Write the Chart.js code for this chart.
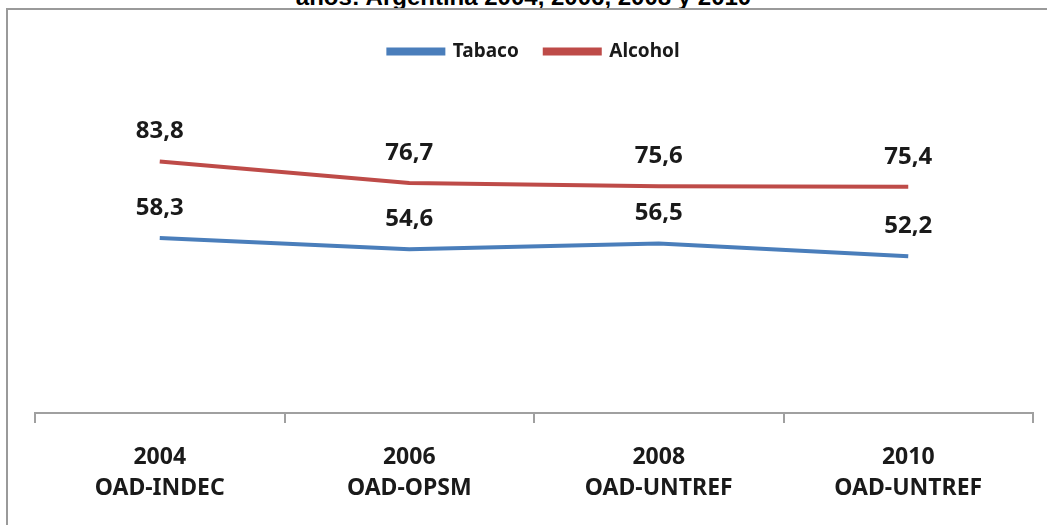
<!DOCTYPE html>
<html>
<head>
<meta charset="utf-8">
<script src="https://cdn.jsdelivr.net/npm/chart.js@4"></script>
<style>
    html, body { margin: 0; padding: 0; background: #fff; overflow: hidden; }
    #wrap { position: relative; width: 1047px; height: 525px; overflow: hidden; }
    #title { position: absolute; left: 0; width: 1047px; top: -17px; text-align: center;
             font: bold 24px "Liberation Sans", Arial, sans-serif; color: #000; }
    #frame { position: absolute; left: 6px; top: 8px; width: 2000px; height: 2000px;
             border-left: 2px solid #9a9a9a; border-top: 2px solid #9a9a9a; background: #fff; }
    #chart { position: absolute; left: 0; top: 0; }
</style>
</head>
<body>
<div id="wrap">
    <div id="title">años: Argentina 2004, 2006, 2008 y 2010</div>
    <div id="frame"></div>
    <canvas id="chart" width="1047" height="525"></canvas>
</div>
<script>
// Datos del gráfico
const years = ['2004', '2006', '2008', '2010'];
const sources = ['OAD-INDEC', 'OAD-OPSM', 'OAD-UNTREF', 'OAD-UNTREF'];
const tabaco = [58.3, 54.6, 56.5, 52.2];
const alcohol = [83.8, 76.7, 75.6, 75.4];

const labels = years.map((y, i) => [y, sources[i]]);

// Etiquetas de valor sobre cada punto (coma decimal)
const valueLabels = {
    id: 'valueLabels',
    afterDatasetsDraw(chart) {
        const ctx = chart.ctx;
        ctx.save();
        ctx.font = 'bold 24px "Noto Sans", sans-serif';
        ctx.fillStyle = '#1a1a1a';
        ctx.textAlign = 'center';
        ctx.textBaseline = 'middle';
        chart.data.datasets.forEach((ds, di) => {
            chart.getDatasetMeta(di).data.forEach((pt, i) => {
                const txt = ds.data[i].toFixed(1).replace('.', ',');
                ctx.fillText(txt, pt.x, pt.y - 30);
            });
        });
        ctx.restore();
    }
};

// Espacio extra debajo de la leyenda
const legendMargin = {
    id: 'legendMargin',
    beforeInit(chart) {
        const fit = chart.legend.fit;
        chart.legend.fit = function () {
            fit.bind(chart.legend)();
            this.height += 42;
        };
    }
};

new Chart(document.getElementById('chart'), {
    type: 'line',
    data: {
        labels: labels,
        datasets: [
            {
                label: 'Tabaco',
                data: tabaco,
                borderColor: '#4a7ebb',
                backgroundColor: '#4a7ebb',
                borderWidth: 4,
                pointRadius: 0,
                tension: 0
            },
            {
                label: 'Alcohol',
                data: alcohol,
                borderColor: '#be4b48',
                backgroundColor: '#be4b48',
                borderWidth: 4,
                pointRadius: 0,
                tension: 0
            }
        ]
    },
    options: {
        responsive: false,
        animation: false,
        layout: { padding: { left: 35, right: 14, top: 16, bottom: 2 } },
        plugins: {
            legend: {
                position: 'top',
                labels: {
                    boxWidth: 55,
                    boxHeight: 4,
                    padding: 26,
                    color: '#1a1a1a',
                    font: { family: '"Noto Sans", sans-serif', size: 19, weight: 'bold' }
                }
            },
            tooltip: { enabled: false }
        },
        scales: {
            x: {
                offset: true,
                grid: { offset: true, drawOnChartArea: false, tickLength: 10, color: '#a0a0a0', lineWidth: 2 },
                border: { color: '#a0a0a0', width: 2 },
                ticks: {
                    color: '#1a1a1a',
                    padding: 19,
                    maxRotation: 0,
                    font: { family: '"Noto Sans", sans-serif', size: 23, weight: 'bold', lineHeight: 1.35 }
                }
            },
            y: {
                display: false,
                min: 0,
                max: 100
            }
        }
    },
    plugins: [valueLabels, legendMargin]
});
</script>
</body>
</html>
